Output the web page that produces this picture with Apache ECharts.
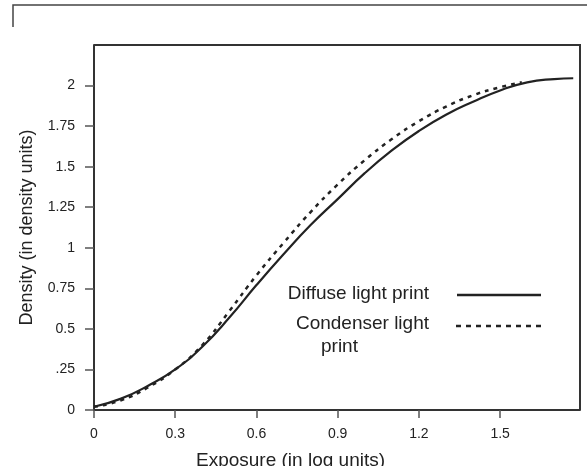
<!DOCTYPE html>
<html>
<head>
<meta charset="utf-8">
<script src="https://cdn.jsdelivr.net/npm/echarts@6/dist/echarts.min.js"></script>
<style>
  html, body { margin: 0; padding: 0; background: #fff; }
  #canvas { width: 587px; height: 466px; }
</style>
</head>
<body>
<div id="canvas"></div>
<script>
// exposure (log units) vs density
var diffuseX = [0, 0.1, 0.2, 0.3, 0.4, 0.5, 0.6, 0.7, 0.8, 0.9, 1.0, 1.1, 1.2, 1.3, 1.4, 1.5, 1.6, 1.7, 1.77];
var diffuseY = [0.02, 0.07, 0.15, 0.25, 0.39, 0.57, 0.77, 0.96, 1.14, 1.30, 1.46, 1.60, 1.72, 1.82, 1.90, 1.97, 2.02, 2.04, 2.045];
var condenserX = [0, 0.1, 0.2, 0.3, 0.4, 0.5, 0.6, 0.7, 0.8, 0.9, 1.0, 1.1, 1.2, 1.3, 1.4, 1.5, 1.58];
var condenserY = [0.02, 0.06, 0.14, 0.25, 0.40, 0.61, 0.83, 1.03, 1.22, 1.39, 1.54, 1.67, 1.78, 1.87, 1.94, 1.99, 2.02];
var xTicks = ['0', '0.3', '0.6', '0.9', '1.2', '1.5'];
var yTicks = ['0', '.25', '0.5', '0.75', '1', '1.25', '1.5', '1.75', '2'];

function pairs(xs, ys) {
    return xs.map(function (x, i) { return [x, ys[i]]; });
}

var ink = '#222';
var font = 'Liberation Sans, Arial, sans-serif';

var myChart = echarts.init(document.getElementById('canvas'));
option = {
    animation: false,
    grid: {
        left: 94,
        right: 7,
        top: 45,
        bottom: 56
    },
    xAxis: {
        type: 'value',
        min: 0,
        max: 1.795,
        interval: 0.3,
        splitLine: { show: false },
        axisLine: { lineStyle: { color: '#333', width: 2 } },
        axisTick: { length: 8, lineStyle: { color: '#555', width: 1.5 } },
        axisLabel: {
            margin: 17,
            color: ink,
            fontFamily: font,
            fontSize: 14,
            showMaxLabel: false,
            formatter: function (v) {
                return xTicks[Math.round(v / 0.3)] || '';
            }
        }
    },
    yAxis: {
        type: 'value',
        min: 0,
        max: 2.25,
        interval: 0.25,
        name: 'Density (in density units)',
        nameLocation: 'middle',
        nameGap: 58,
        nameTextStyle: { color: ink, fontFamily: font, fontSize: 18 },
        splitLine: { show: false },
        axisLine: { lineStyle: { color: '#333', width: 2 } },
        axisTick: { length: 9, lineStyle: { color: '#555', width: 1.5 } },
        axisLabel: {
            margin: 19,
            color: ink,
            fontFamily: font,
            fontSize: 14,
            showMaxLabel: false,
            formatter: function (v) {
                return yTicks[Math.round(v / 0.25)] || '';
            }
        }
    },
    graphic: [
        // page frame fragment at the top
        { type: 'polyline', shape: { points: [[13, 27], [13, 5], [587, 5]] },
          style: { stroke: '#444', lineWidth: 1.5, fill: null } },
        // plot box top + right
        { type: 'polyline', shape: { points: [[94, 45], [580, 45], [580, 410]] },
          style: { stroke: '#333', lineWidth: 2, fill: null } },
        // x-axis title
        { type: 'text', left: 196, top: 451,
          style: { text: 'Exposure (in log units)', fill: ink, font: '19px ' + font } },
        // legend
        { type: 'text', x: 429, y: 294,
          style: { text: 'Diffuse light print', fill: ink, font: '19px ' + font, align: 'right', verticalAlign: 'middle' } },
        { type: 'line', shape: { x1: 457, y1: 295, x2: 541, y2: 295 },
          style: { stroke: ink, lineWidth: 2.5 } },
        { type: 'text', x: 429, y: 324,
          style: { text: 'Condenser light', fill: ink, font: '19px ' + font, align: 'right', verticalAlign: 'middle' } },
        { type: 'text', x: 321, y: 347,
          style: { text: 'print', fill: ink, font: '19px ' + font, align: 'left', verticalAlign: 'middle' } },
        { type: 'line', shape: { x1: 456, y1: 326, x2: 541, y2: 326 },
          style: { stroke: ink, lineWidth: 2.5, lineDash: [5, 5] } }
    ],
    series: [{
        name: 'Diffuse light print',
        type: 'line',
        smooth: true,
        symbol: 'none',
        data: pairs(diffuseX, diffuseY),
        lineStyle: { color: ink, width: 2.2 },
        z: 3
    }, {
        name: 'Condenser light print',
        type: 'line',
        smooth: true,
        symbol: 'none',
        data: pairs(condenserX, condenserY),
        lineStyle: { color: ink, width: 2.5, type: [4, 5] },
        z: 2
    }]
};
myChart.setOption(option);
</script>
</body>
</html>
